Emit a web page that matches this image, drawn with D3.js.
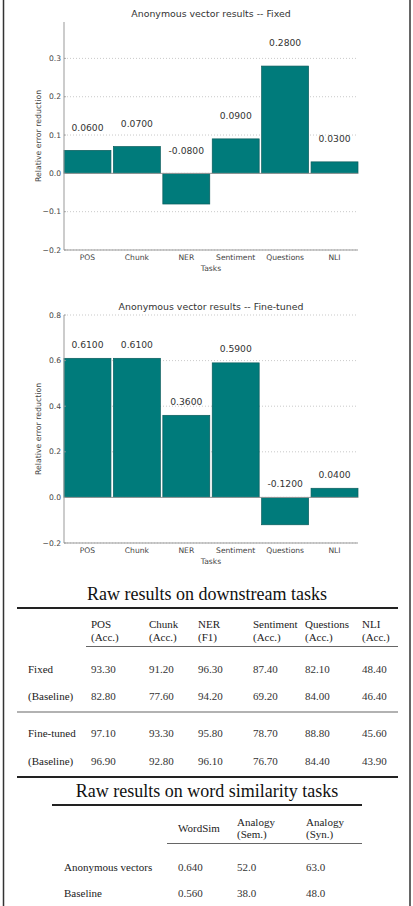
<!DOCTYPE html>
<html><head><meta charset="utf-8">
<script src="https://cdn.jsdelivr.net/npm/d3@7"></script>
<style>html,body{margin:0;padding:0;background:#fff;}svg{display:block;}</style>
</head><body>
<script>
// ---------- data ----------
const tasks = ["POS", "Chunk", "NER", "Sentiment", "Questions", "NLI"];
const fixedReduction = [0.06, 0.07, -0.08, 0.09, 0.28, 0.03];
const finetunedReduction = [0.61, 0.61, 0.36, 0.59, -0.12, 0.04];
const fixedTicks = [-0.2, -0.1, 0.0, 0.1, 0.2, 0.3];
const finetunedTicks = [-0.2, 0.0, 0.2, 0.4, 0.6, 0.8];

const downstreamHeadTop = ["POS", "Chunk", "NER", "Sentiment", "Questions", "NLI"];
const downstreamHeadBottom = ["(Acc.)", "(Acc.)", "(F1)", "(Acc.)", "(Acc.)", "(Acc.)"];
const downstreamRowLabels = ["Fixed", "(Baseline)", "Fine-tuned", "(Baseline)"];
const fixedRaw = [93.30, 91.20, 96.30, 87.40, 82.10, 48.40];
const fixedBaseline = [82.80, 77.60, 94.20, 69.20, 84.00, 46.40];
const finetunedRaw = [97.10, 93.30, 95.80, 78.70, 88.80, 45.60];
const finetunedBaseline = [96.90, 92.80, 96.10, 76.70, 84.40, 43.90];

const simHeadTop = ["WordSim", "Analogy", "Analogy"];
const simHeadBottom = ["", "(Sem.)", "(Syn.)"];
const simRowLabels = ["Anonymous vectors", "Baseline"];
const anonymousSim = [0.640, 52.0, 63.0];
const baselineSim = [0.560, 38.0, 48.0];

// ---------- layout ----------
const W = 413, H = 906;
const svg = d3.select("body").append("svg").attr("width", W).attr("height", H);
const sans = "DejaVu Sans, sans-serif";
const serif = "Liberation Serif, Times New Roman, serif";

// page border lines
svg.append("line").attr("x1", 3.5).attr("x2", 3.5).attr("y1", 0).attr("y2", H)
  .attr("stroke", "#333").attr("stroke-width", 1.5);
svg.append("line").attr("x1", 410).attr("x2", 410).attr("y1", 0).attr("y2", H)
  .attr("stroke", "#333").attr("stroke-width", 1.5);

function barChart(cfg) {
  const g = svg.append("g");
  const x = d3.scaleBand().domain(tasks).range([64, 358]).paddingInner(0.05).paddingOuter(0).align(0);
  const step = x.step();
  const y = d3.scaleLinear().domain(cfg.domain).range([cfg.bottom, cfg.top]);

  // grid
  g.selectAll(".grid").data(cfg.ticks).join("line")
    .attr("x1", 64).attr("x2", 358)
    .attr("y1", d => y(d)).attr("y2", d => y(d))
    .attr("stroke", "#bbb").attr("stroke-width", 0.8).attr("stroke-dasharray", "1,2");

  // bars
  g.selectAll(".bar").data(cfg.values).join("rect")
    .attr("x", (d, i) => 64 + i * step)
    .attr("width", x.bandwidth())
    .attr("y", d => y(Math.max(0, d)))
    .attr("height", d => Math.abs(y(d) - y(0)))
    .attr("fill", "#007b7b").attr("stroke", "#0a5c5c").attr("stroke-width", 0.7);

  // zero line
  g.append("line").attr("x1", 64).attr("x2", 358).attr("y1", y(0)).attr("y2", y(0))
    .attr("stroke", "#999").attr("stroke-width", 1);

  // value labels
  g.selectAll(".val").data(cfg.values).join("text")
    .attr("x", (d, i) => 64 + i * step + x.bandwidth() / 2)
    .attr("y", d => y(Math.max(0, d) + 0.06))
    .attr("dy", "0.35em")
    .attr("text-anchor", "middle")
    .attr("font-family", sans).attr("font-size", 9.2).attr("fill", "#333")
    .text(d => d.toFixed(4));

  // spines
  g.append("line").attr("x1", 64).attr("x2", 64).attr("y1", cfg.top).attr("y2", cfg.bottom)
    .attr("stroke", "#999").attr("stroke-width", 1);
  g.append("line").attr("x1", 64).attr("x2", 358).attr("y1", cfg.bottom).attr("y2", cfg.bottom)
    .attr("stroke", "#999").attr("stroke-width", 1);

  // y tick labels
  g.selectAll(".yt").data(cfg.ticks).join("text")
    .attr("x", 61).attr("y", d => y(d)).attr("dy", "0.35em")
    .attr("text-anchor", "end")
    .attr("font-family", sans).attr("font-size", 7.6).attr("fill", "#444")
    .text(d => d3.format(".1f")(d).replace("-", "\u2212"));
  // y tick marks
  g.selectAll(".ytm").data(cfg.ticks).join("line")
    .attr("x1", 64).attr("x2", 66).attr("y1", d => y(d)).attr("y2", d => y(d))
    .attr("stroke", "#999").attr("stroke-width", 0.8);

  // x tick labels
  g.selectAll(".xt").data(tasks).join("text")
    .attr("x", (d, i) => 64 + i * step + x.bandwidth() / 2)
    .attr("y", cfg.bottom + 7).attr("dy", "0.35em")
    .attr("text-anchor", "middle")
    .attr("font-family", sans).attr("font-size", 7.6).attr("fill", "#444")
    .text(d => d);

  // axis labels
  g.append("text").attr("x", 211).attr("y", cfg.bottom + 18).attr("dy", "0.35em")
    .attr("text-anchor", "middle")
    .attr("font-family", sans).attr("font-size", 7.6).attr("fill", "#444").text("Tasks");
  const cy = (cfg.top + cfg.bottom) / 2;
  g.append("text").attr("transform", `translate(38,${cy}) rotate(-90)`).attr("dy", "0.35em")
    .attr("text-anchor", "middle")
    .attr("font-family", sans).attr("font-size", 7.8).attr("fill", "#444")
    .text("Relative error reduction");

  // title
  g.append("text").attr("x", 211).attr("y", cfg.top - 6).attr("dy", "0.1em")
    .attr("text-anchor", "middle")
    .attr("font-family", sans).attr("font-size", 9.4).attr("fill", "#333")
    .text(cfg.title);
}

barChart({ values: fixedReduction, ticks: fixedTicks, domain: [-0.2, 0.395], top: 22, bottom: 250,
  title: "Anonymous vector results -- Fixed" });
barChart({ values: finetunedReduction, ticks: finetunedTicks, domain: [-0.2, 0.8], top: 315, bottom: 543,
  title: "Anonymous vector results -- Fine-tuned" });

// ---------- table 1 ----------
function txt(x, y, s, opts = {}) {
  return svg.append("text").attr("x", x).attr("y", y).attr("dy", "0.35em")
    .attr("text-anchor", opts.anchor || "start")
    .attr("font-family", serif).attr("font-size", opts.size || 11)
    .attr("fill", opts.fill || "#222").text(s);
}
function rule(x1, x2, y, w, c) {
  svg.append("line").attr("x1", x1).attr("x2", x2).attr("y1", y).attr("y2", y)
    .attr("stroke", c || "#222").attr("stroke-width", w);
}

txt(207, 594, "Raw results on downstream tasks", { anchor: "middle", size: 18, fill: "#111" });
rule(17, 398, 608, 2, "#222");
const colX1 = [91, 149, 198, 253, 305, 362];
downstreamHeadTop.forEach((h, i) => txt(colX1[i], 624, h));
downstreamHeadBottom.forEach((h, i) => txt(colX1[i], 637.5, h));
rule(86, 398, 646.5, 1, "#666");
const rows1 = [fixedRaw, fixedBaseline, finetunedRaw, finetunedBaseline];
const rowY1 = [669, 696, 733.5, 761];
rows1.forEach((r, ri) => {
  txt(28, rowY1[ri], downstreamRowLabels[ri]);
  r.forEach((v, i) => txt(colX1[i], rowY1[ri], v.toFixed(2), { fill: "#333" }));
});
rule(17, 398, 712, 1.2, "#666");
rule(17, 398, 777, 2, "#222");

// ---------- table 2 ----------
txt(207, 790.5, "Raw results on word similarity tasks", { anchor: "middle", size: 18, fill: "#111" });
rule(52, 362, 805, 2, "#222");
const colX2 = [178, 237, 306];
simHeadTop.forEach((h, i) => txt(colX2[i], simHeadBottom[i] ? 822 : 828, h));
simHeadBottom.forEach((h, i) => { if (h) txt(colX2[i], 834.5, h); });
rule(167, 362, 843.5, 1, "#666");
const rows2 = [anonymousSim, baselineSim];
const rowY2 = [867, 893];
rows2.forEach((r, ri) => {
  txt(64, rowY2[ri], simRowLabels[ri]);
  r.forEach((v, i) => txt(colX2[i], rowY2[ri], i === 0 ? v.toFixed(3) : v.toFixed(1), { fill: "#333" }));
});
</script>
</body></html>
